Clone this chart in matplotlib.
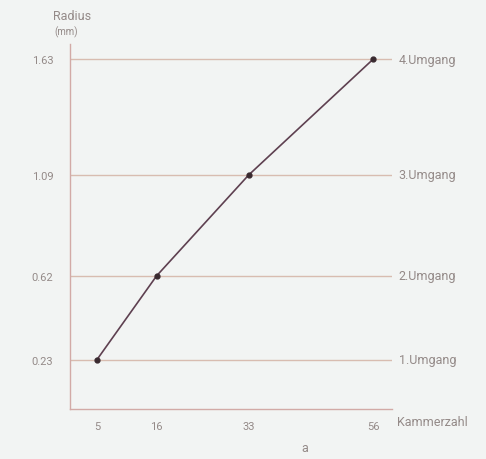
import matplotlib
matplotlib.use('Agg')
import matplotlib.pyplot as plt

plt.rcParams['font.family'] = ['Roboto', 'DejaVu Sans']

# data
kammerzahl = [5, 16, 33, 56]
radius = [0.23, 0.62, 1.09, 1.63]
umgang_labels = ['1.Umgang', '2.Umgang', '3.Umgang', '4.Umgang']

bg = '#f2f4f3'
text_col = '#948a88'
rule_col = '#d8bcb0'
spine_col = '#d2aaa6'
curve_col = '#5e4050'

fig = plt.figure(figsize=(4.86, 4.6), dpi=100, facecolor=bg)
ax = fig.add_axes([0.144, 0.109, 0.663, 0.793])
ax.set_facecolor(bg)

ax.set_xlim(0, 59.5)
ax.set_ylim(0, 1.70)

for r in radius:
    ax.axhline(r, color=rule_col, lw=1.0, zorder=1)

ax.plot(kammerzahl, radius, color=curve_col, lw=1.2, marker='o', ms=3.5,
        mfc='#3a2a30', mec='#3a2a30', zorder=3)

for s in ['top', 'right']:
    ax.spines[s].set_visible(False)
for s in ['left', 'bottom']:
    ax.spines[s].set_color(spine_col)
    ax.spines[s].set_linewidth(1.0)

ax.set_xticks(kammerzahl)
ax.set_xticklabels([str(k) for k in kammerzahl])
ax.set_yticks(radius)
ax.set_yticklabels([f'{r:.2f}' for r in radius])
ax.tick_params(length=0, colors=text_col, labelsize=8)
ax.tick_params(axis='x', pad=9)
ax.tick_params(axis='y', pad=12)

for r, lab in zip(radius, umgang_labels):
    ax.text(1.02, r, lab, transform=ax.get_yaxis_transform(), ha='left',
            va='center', color=text_col, fontsize=9)

fig.text(53 / 486, 1 - 17 / 460, 'Radius', ha='left', va='center',
         color=text_col, fontsize=9)
fig.text(54 / 486, 1 - 32 / 460, '(mm)', ha='left', va='center',
         color=text_col, fontsize=7)
fig.text(397 / 486, 1 - 423 / 460, 'Kammerzahl', ha='left', va='center',
         color=text_col, fontsize=9)
fig.text(305 / 486, 1 - 449 / 460, 'a', ha='center', va='center',
         color=text_col, fontsize=9)

fig.savefig('out.png', dpi=100, facecolor=bg)
